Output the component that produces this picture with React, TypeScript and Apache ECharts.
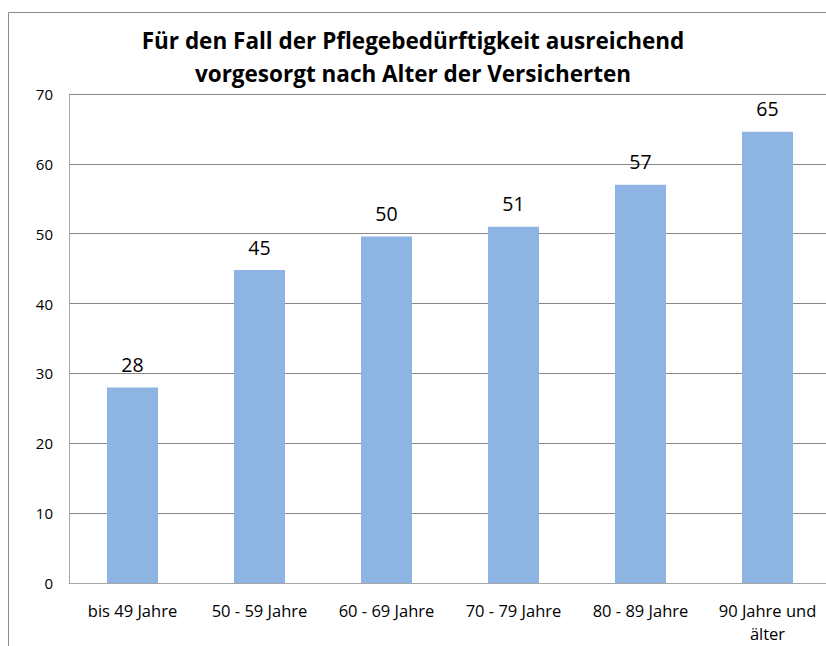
import React, { useEffect, useRef } from "react";
import * as echarts from "echarts";

const titleLines = [
  "Für den Fall der Pflegebedürftigkeit ausreichend",
  "vorgesorgt nach Alter der Versicherten",
];
const categories = [
  "bis 49 Jahre",
  "50 - 59 Jahre",
  "60 - 69 Jahre",
  "70 - 79 Jahre",
  "80 - 89 Jahre",
  "90 Jahre und\nälter",
];
const values = [28, 44.8, 49.6, 51, 57, 64.6];
const yMin = 0;
const yMax = 70;
const yStep = 10;

const FONT = "'Open Sans', 'Noto Sans', sans-serif";

export default function App() {
  const ref = useRef<HTMLDivElement>(null);
  useEffect(() => {
    if (!ref.current) return;
    const chart = echarts.init(ref.current, undefined, { renderer: "svg" });
    chart.setOption({
      animation: false,
      backgroundColor: "#ffffff",
      title: {
        text: titleLines.join("\n"),
        left: "center",
        top: 19,
        textStyle: {
          fontFamily: FONT,
          fontWeight: "bold",
          fontSize: 22.5,
          lineHeight: 33,
          color: "#000000",
        },
      },
      graphic: [
        {
          type: "rect",
          shape: { x: 8.5, y: 12.5, width: 1000, height: 1000 },
          style: { fill: "none", stroke: "#8c8c8c", lineWidth: 1 },
          silent: true,
        },
      ],
      grid: {
        left: 69,
        top: 94,
        width: 762,
        height: 489,
        containLabel: false,
        outerBoundsMode: "none",
      },
      xAxis: {
        type: "category",
        data: categories,
        axisLine: { show: true, lineStyle: { color: "#a6a6a6", width: 1 } },
        axisTick: { show: false },
        axisLabel: {
          fontFamily: FONT,
          fontSize: 16.5,
          color: "#000000",
          margin: 16,
          lineHeight: 23,
          interval: 0,
        },
      },
      yAxis: {
        type: "value",
        min: yMin,
        max: yMax,
        interval: yStep,
        axisLine: { show: true, lineStyle: { color: "#a6a6a6", width: 1 } },
        axisTick: { show: false },
        axisLabel: {
          fontFamily: FONT,
          fontSize: 15,
          color: "#000000",
          margin: 16,
        },
        splitLine: { show: true, lineStyle: { color: "#868686", width: 1 } },
      },
      series: [
        {
          type: "bar",
          data: values,
          barWidth: 51,
          itemStyle: { color: "#8eb4e3" },
          label: {
            show: true,
            position: "top",
            distance: 13,
            fontFamily: FONT,
            fontSize: 19.5,
            color: "#000000",
            formatter: (p: any) => String(Math.round(p.value)),
          },
        },
      ],
    });
    return () => chart.dispose();
  }, []);
  return (
    <div
      ref={ref}
      style={{ position: "absolute", left: 0, top: 0, width: 826, height: 646 }}
    />
  );
}
